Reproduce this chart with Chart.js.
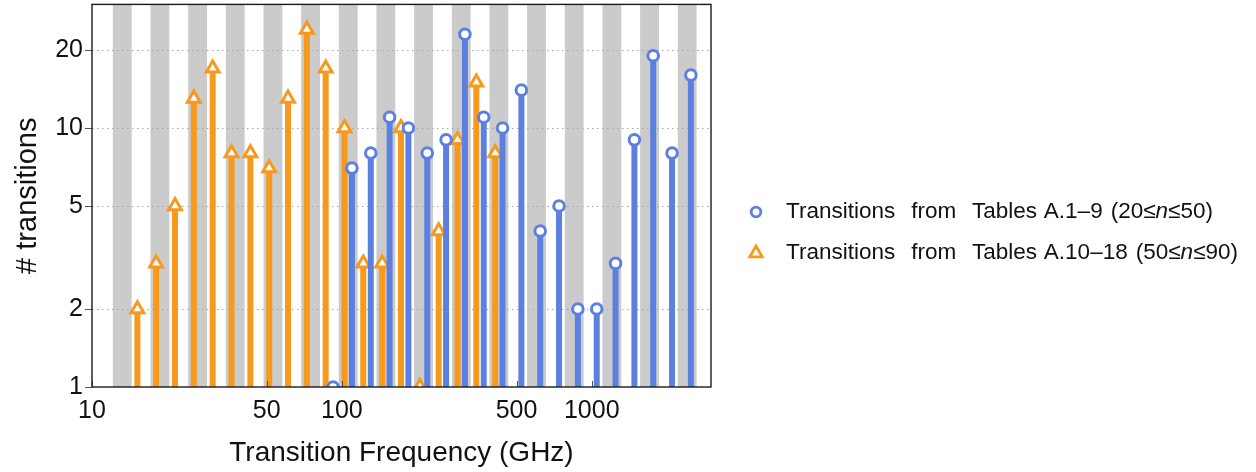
<!DOCTYPE html>
<html>
<head>
<meta charset="utf-8">
<script src="https://cdn.jsdelivr.net/npm/chart.js@4/dist/chart.umd.min.js"></script>
<style>
  html, body { margin:0; padding:0; background:#fff; }
  #wrap { position:relative; width:1256px; height:472px; overflow:hidden; }
  #c { position:absolute; left:0; top:-6px; }
  #legend { position:absolute; left:745px; top:191px; font-family:"Liberation Sans", Arial, sans-serif; font-size:22.5px; word-spacing:1.8px; color:#111; }
  .lg-row { position:relative; height:41px; white-space:pre; }
  .lg-row svg { position:absolute; left:0; top:10px; }
  .lg-row span { position:absolute; left:41px; top:7px; }
</style>
</head>
<body>
<div id="wrap">
  <canvas id="c" width="1256" height="478"></canvas>
  <div id="legend">
    <div class="lg-row">
      <svg width="22" height="22" viewBox="0 0 22 22"><circle cx="11" cy="11" r="4.8" fill="#fff" stroke="#5B80E0" stroke-width="2.8"/></svg>
      <span>Transitions  from  Tables A.1–9 (20≤<i>n</i>≤50)</span>
    </div>
    <div class="lg-row">
      <svg width="22" height="22" viewBox="0 0 22 22"><polygon points="11,4 17.2,14.8 4.8,14.8" fill="#fff" stroke="#F7991C" stroke-width="2.8" stroke-linejoin="miter"/></svg>
      <span>Transitions  from  Tables A.10–18 (50≤<i>n</i>≤90)</span>
    </div>
  </div>
</div>
<script>
// frequencies (GHz) and counts
const blueFreq   = [92.2, 109.7, 130.5, 155.2, 184.6, 219.6, 261.2, 310.7, 369.5, 439.6, 522.8, 621.9, 739.6, 879.8, 1046.6, 1245, 1481, 1761, 2095, 2492];
const blueCount  = [1, 7, 8, 11, 10, 8, 9, 23, 11, 10, 14, 4, 5, 2, 2, 3, 9, 19, 8, 16];
const orangeFreq = [15.19, 18.06, 21.49, 25.56, 30.41, 36.17, 43.03, 51.17, 60.87, 72.41, 86.13, 102.4, 121.8, 144.9, 172.4, 205.1, 244.0, 290.2, 345.1, 410.6];
const orangeCount= [2, 3, 5, 13, 17, 8, 8, 7, 13, 24, 17, 10, 3, 3, 10, 1, 4, 9, 15, 8];

const xTicks = [10, 50, 100, 500, 1000];
const yTicks = [1, 2, 5, 10, 20];

const BLUE = '#5B80E0', ORANGE = '#F7991C', BAND = '#CBCBCB';
const FONT = '"Liberation Sans", Arial, sans-serif';

// shaded bins (log10 spacing of the histogram bins)
const BAND_LOG0 = 1.008, BAND_STEP = 0.07536, BAND_N = 33;

const pts   = (f, v) => f.map((x, i) => ({x, y: v[i]}));
const stems = (f, v) => f.flatMap((x, i) => [{x, y: 1}, {x, y: v[i]}, {x, y: null}]);

const noPad = s => { s.paddingTop = 0; s.paddingBottom = 0; s.paddingLeft = 0; s.paddingRight = 0; };

const framePlugin = {
  id: 'frame',
  beforeDatasetsDraw(chart) {
    const {ctx, chartArea: a, scales: {x, y}} = chart;
    ctx.save();
    ctx.beginPath(); ctx.rect(a.left, a.top, a.right - a.left, a.bottom - a.top); ctx.clip();
    ctx.fillStyle = BAND;
    for (let k = 1; k < BAND_N; k += 2) {
      const x0 = x.getPixelForValue(Math.pow(10, BAND_LOG0 + BAND_STEP * k));
      const x1 = x.getPixelForValue(Math.pow(10, BAND_LOG0 + BAND_STEP * (k + 1)));
      ctx.fillRect(x0, a.top, x1 - x0, a.bottom - a.top);
    }
    // dotted grid
    ctx.strokeStyle = '#A8A8A8'; ctx.lineWidth = 1; ctx.setLineDash([1.5, 3.5]);
    yTicks.slice(1).forEach(v => {
      const py = Math.round(y.getPixelForValue(v)) + 0.5;
      ctx.beginPath(); ctx.moveTo(a.left, py); ctx.lineTo(a.right, py); ctx.stroke();
    });
    ctx.restore();
  },
  afterDatasetsDraw(chart) {
    const {ctx, chartArea: a, scales: {x, y}} = chart;
    ctx.save();
    ctx.strokeStyle = '#555'; ctx.lineWidth = 1;
    xTicks.forEach(v => {
      const px = Math.round(x.getPixelForValue(v)) + 0.5;
      ctx.beginPath(); ctx.moveTo(px, a.bottom); ctx.lineTo(px, a.bottom - 6); ctx.stroke();
    });
    yTicks.forEach(v => {
      const py = Math.round(y.getPixelForValue(v)) + 0.5;
      ctx.beginPath(); ctx.moveTo(a.left - 7, py); ctx.lineTo(a.left, py); ctx.stroke();
    });
    ctx.strokeStyle = '#1a1a1a'; ctx.lineWidth = 1.4;
    ctx.strokeRect(a.left, a.top, a.right - a.left, a.bottom - a.top);
    ctx.restore();
  }
};

new Chart(document.getElementById('c'), {
  type: 'scatter',
  data: {
    datasets: [
      { label: 'blue pts', data: pts(blueFreq, blueCount), pointStyle: 'circle', pointRadius: 5.3,
        pointBorderWidth: 3, borderColor: BLUE, backgroundColor: '#fff', order: 0, clip: 0 },
      { label: 'blue stems', data: stems(blueFreq, blueCount), showLine: true, pointRadius: 0,
        borderWidth: 6, borderColor: BLUE, spanGaps: false, order: 1, clip: 0 },
      { label: 'orange pts', data: pts(orangeFreq, orangeCount), pointStyle: 'triangle', pointRadius: 7.4,
        pointBorderWidth: 3, borderColor: ORANGE, backgroundColor: '#fff', order: 2, clip: 0 },
      { label: 'orange stems', data: stems(orangeFreq, orangeCount), showLine: true, pointRadius: 0,
        borderWidth: 6, borderColor: ORANGE, spanGaps: false, order: 3, clip: 0 },
    ]
  },
  options: {
    responsive: false, animation: false, events: [],
    layout: { padding: { top: 4, right: 545, left: 0, bottom: 0 } },
    plugins: { legend: { display: false }, tooltip: { enabled: false } },
    scales: {
      x: {
        type: 'logarithmic', min: 10, max: 3000,
        grid: { display: false, drawTicks: false }, border: { display: false },
        afterBuildTicks: s => { s.ticks = xTicks.map(v => ({value: v})); },
        afterFit: s => { s.height = 85; noPad(s); },
        ticks: { autoSkip: false, maxRotation: 0, padding: 9, color: '#111',
          font: { family: FONT, size: 25 }, callback: v => String(v) },
        title: { display: true, text: 'Transition Frequency (GHz)', color: '#111',
          font: { family: FONT, size: 28 }, padding: { top: 0, bottom: 2 } }
      },
      y: {
        type: 'logarithmic', min: 1, max: 30,
        grid: { display: false, drawTicks: false }, border: { display: false },
        afterBuildTicks: s => { s.ticks = yTicks.map(v => ({value: v})); },
        afterFit: s => { s.width = 92; noPad(s); },
        ticks: { autoSkip: false, padding: 9, color: '#111',
          font: { family: FONT, size: 25 }, callback: v => String(v) },
        title: { display: true, text: '# transitions', color: '#111',
          font: { family: FONT, size: 29 }, padding: { top: 11, bottom: 0 } }
      }
    }
  },
  plugins: [framePlugin]
});
</script>
</body>
</html>
